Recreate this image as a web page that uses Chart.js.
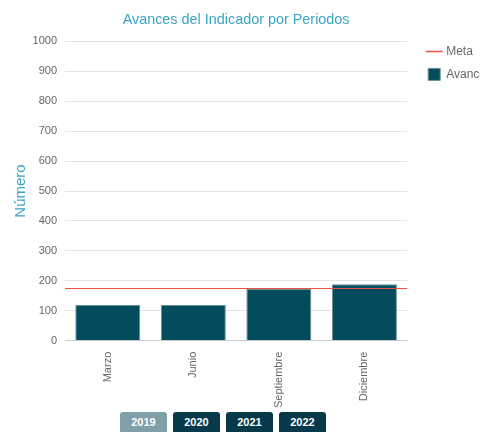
<!DOCTYPE html>
<html>
<head>
<meta charset="utf-8">
<script src="https://cdn.jsdelivr.net/npm/chart.js@4/dist/chart.umd.min.js"></script>
<style>
    body { margin: 0; background: #fff; overflow: hidden; font-family: "Liberation Sans", Arial, sans-serif; }
    #chartBox { position: relative; width: 496px; height: 411px; }
    #years { position: absolute; left: 120px; top: 412px; display: flex; gap: 6px; }
    #years div {
        width: 47px; height: 20px; line-height: 20px; text-align: center;
        font-size: 11px; font-weight: bold; color: #fff; background: #06394a;
        border-radius: 3px 3px 0 0;
    }
    #years div.active { background: #7f9fa9; }
</style>
</head>
<body>
<div id="chartBox"><canvas id="avanceChart"></canvas></div>
<div id="years">
    <div class="active">2019</div>
    <div>2020</div>
    <div>2021</div>
    <div>2022</div>
</div>
<script>
// datos del indicador
var periodos = ["Marzo", "Junio", "Septiembre", "Diciembre"];
var avance = [120, 120, 174, 189];
var meta = 175;
var yTicksMax = 1000;
var yTicksStep = 100;

var tituloColor = "#3aa5c3";
var metaColor = "#e8553f";

// la linea de meta cruza todo el area del grafico
var metaLinePlugin = {
    id: "metaLine",
    afterDatasetsDraw(chart) {
        var area = chart.chartArea;
        var y = Math.round(chart.scales.y.getPixelForValue(meta)) + 0.5;
        var c = chart.ctx;
        c.save();
        c.strokeStyle = metaColor;
        c.lineWidth = 1;
        c.beginPath();
        c.moveTo(area.left, y);
        c.lineTo(area.right, y);
        c.stroke();
        c.restore();
    }
};

var ctx = document.getElementById("avanceChart");
var avanceChart = new Chart(ctx, {
    type: "bar",
    data: {
        labels: periodos,
        datasets: [
            {
                type: "line",
                label: "Meta",
                data: [],
                borderColor: metaColor,
                backgroundColor: metaColor,
                borderWidth: 1.5,
                pointRadius: 0,
                pointStyle: "line"
            },
            {
                type: "bar",
                label: "Avance",
                data: avance,
                backgroundColor: "#024c5e",
                borderColor: "#6b8e97",
                borderWidth: 1,
                pointStyle: "rect",
                categoryPercentage: 0.76,
                barPercentage: 1
            }
        ]
    },
    plugins: [metaLinePlugin],
    options: {
        responsive: true,
        maintainAspectRatio: false,
        animation: false,
        layout: { padding: { left: 8, top: 6, bottom: 0 } },
        plugins: {
            title: {
                display: true,
                fullSize: false,
                text: "Avances del Indicador por Periodos",
                color: tituloColor,
                font: { family: "Liberation Sans", size: 14.4, weight: "normal" },
                padding: { top: 5, bottom: 13 }
            },
            legend: {
                position: "right",
                align: "start",
                title: {
                    display: true,
                    text: " ",
                    padding: { top: 0, bottom: 14 }
                },
                labels: {
                    usePointStyle: true,
                    color: "#666",
                    font: { family: "Liberation Sans", size: 12 },
                    padding: 11
                }
            },
            tooltip: { enabled: false }
        },
        scales: {
            x: {
                grid: { display: false },
                border: { color: "#d0d0d0" },
                ticks: {
                    color: "#666",
                    font: { family: "Liberation Sans", size: 11 },
                    minRotation: 90,
                    maxRotation: 90
                }
            },
            y: {
                min: 0,
                max: yTicksMax,
                ticks: {
                    stepSize: yTicksStep,
                    color: "#666",
                    font: { family: "Liberation Sans", size: 11 },
                    padding: 8,
                    callback: function(v) { return String(v); }
                },
                grid: { color: "#e3e3e3", drawTicks: false },
                border: { display: false },
                title: {
                    display: true,
                    text: "Número",
                    color: tituloColor,
                    font: { family: "Liberation Sans", size: 15 },
                    padding: { top: 4, bottom: 0 }
                },
                afterFit: function(scale) { scale.width = 57; }
            },
            // espacio entre el area y la leyenda
            yGap: {
                position: "right",
                display: true,
                min: 0,
                max: 1,
                ticks: { display: false },
                grid: { display: false, drawTicks: false },
                border: { display: false },
                afterFit: function(scale) { scale.width = 10; }
            }
        }
    }
});
</script>
</body>
</html>
